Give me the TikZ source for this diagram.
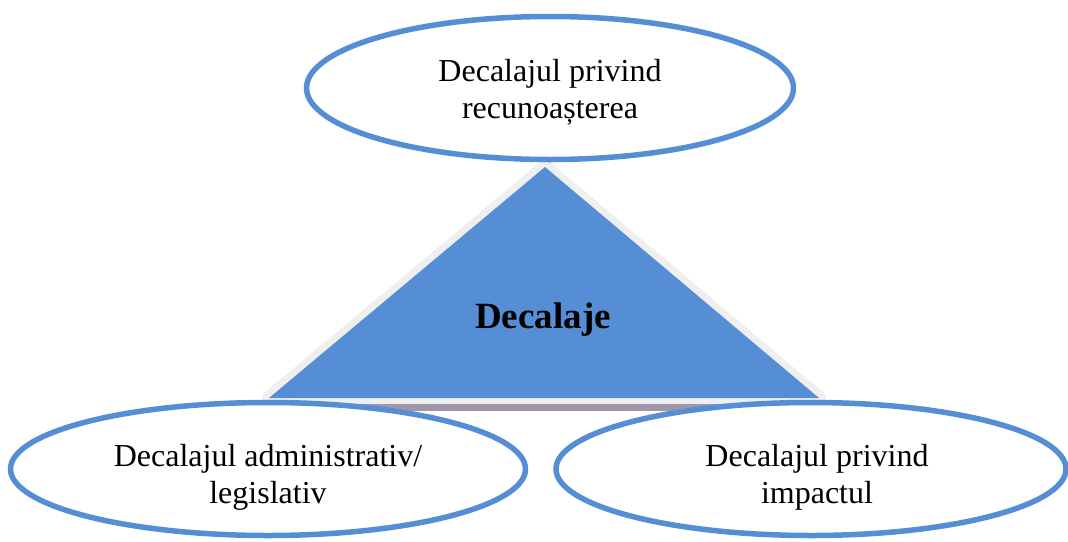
\documentclass[tikz,border=0pt]{standalone}
\usepackage{fontspec}
\setmainfont{Liberation Serif}
\usepackage{tikz}
\usetikzlibrary{shapes.geometric}

\definecolor{pyrblue}{HTML}{558ED5}
\definecolor{pyredge}{HTML}{EFEFEF}
\definecolor{pyrbase}{HTML}{A096AA}

\begin{document}
\begin{tikzpicture}[x=1pt,y=-1pt,
    gapbox/.style={ellipse,draw=pyrblue,line width=5.5pt,fill=white,inner sep=0pt},
    gaptext/.style={align=center,inner sep=0pt,font=\fontsize{32}{37}\selectfont}]
            \useasboundingbox (0,0) rectangle (1068,541);
            % pyramid with its light edge and base
            \coordinate (apex) at (545,167);
            \coordinate (left) at (269,398);
            \coordinate (right) at (819,398);
            \draw[pyredge,line width=14pt,line join=round] (apex) -- (left) -- (right) -- cycle;
            \fill[pyrbase] (272,404) rectangle (816,411);
            \fill[pyrblue] (apex) -- (left) -- (right) -- cycle;
            \node (core) at (543,320) {\fontsize{37}{40}\selectfont\bfseries Decalaje};
            % the three gaps
            \node[gapbox,minimum width=487pt,minimum height=143pt] (recog) at (550,88) {};
            \node[gaptext] (recogtext) at ([yshift=-4pt]recog.center) {Decalajul privind\\recunoașterea};
            \node[gapbox,minimum width=515pt,minimum height=133pt] (admin) at (268,469) {};
            \node[gaptext] (admintext) at ([yshift=-8pt]admin.center) {Decalajul administrativ/\\legislativ};
            \node[gapbox,minimum width=510pt,minimum height=133pt] (impact) at (811,469) {};
            \node[gaptext] (impacttext) at ([xshift=6pt,yshift=-8pt]impact.center) {Decalajul privind\\impactul};
        \end{tikzpicture}
\end{document}
